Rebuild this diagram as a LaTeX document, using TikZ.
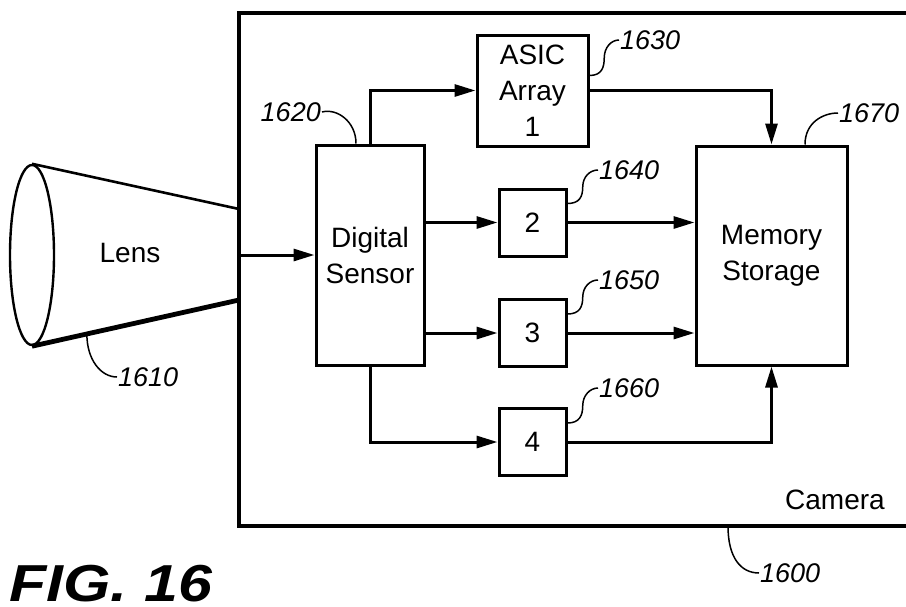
\documentclass[tikz,border=0pt]{standalone}
\usepackage{fontspec}
\setmainfont{Liberation Sans}
\usetikzlibrary{arrows.meta,shapes.geometric,calc}
\begin{document}
\begin{tikzpicture}[x=1pt,y=-1pt,
  blk/.style={draw,line width=3pt,inner sep=0pt,align=center,font=\fontsize{28}{36}\selectfont},
  arr/.style={line width=3pt,-{Triangle[length=21pt,width=12pt]}},
  lead/.style={line width=1.5pt},
  num/.style={font=\fontsize{27}{30}\selectfont\itshape,inner sep=1pt,anchor=west},
  lbl/.style={font=\fontsize{28}{30}\selectfont,inner sep=0pt}]
\useasboundingbox (0,0) rectangle (906,606);

% camera housing
\coordinate (camTR) at (906,13);
\coordinate (camTL) at (239,13);
\coordinate (camBL) at (239,526);
\coordinate (camBR) at (906,526);
\draw[line width=3.6pt] (camTR) -- (camTL) -- (camBL) -- (camBR);
\node[lbl] (camlabel) at (835,500) {Camera};

% lens
\node[draw,ellipse,line width=2.4pt,minimum width=44pt,minimum height=180pt,inner sep=0pt] (rim) at (32,255) {};
\coordinate (wallT) at (239,209);
\coordinate (wallB) at (239,300);
\coordinate (wallM) at (239,255);
\draw[line width=2.6pt] (rim.north) -- (wallT);
\draw[line width=4.8pt] (rim.south) -- (wallB);
\node[lbl] (lenslabel) at (130,253) {Lens};

% blocks
\node[blk,minimum width=108pt,minimum height=220pt] (sensor) at (370,255) {Digital\\Sensor};
\node[blk,minimum width=111pt,minimum height=111pt] (asic) at (532.5,90.5) {ASIC\\Array\\1};
\node[blk,minimum width=67pt,minimum height=67pt] (b2) at (532.5,222.5) {2};
\node[blk,minimum width=67pt,minimum height=67pt] (b3) at (532.5,333) {3};
\node[blk,minimum width=67pt,minimum height=67pt] (b4) at (532.5,442) {4};
\node[blk,minimum width=151pt,minimum height=219pt] (mem) at (771.5,255.5) {Memory\\Storage};

% connectors
\draw[arr] (wallM) -- (sensor.west);
\draw[arr] (sensor.north) |- (asic.west);
\draw[arr] (sensor.east |- b2.west) -- (b2.west);
\draw[arr] (sensor.east |- b3.west) -- (b3.west);
\draw[arr] (sensor.south) |- (b4.west);
\draw[arr] (asic.east) -| (mem.north);
\draw[arr] (b2.east) -- (b2.east -| mem.west);
\draw[arr] (b3.east) -- (b3.east -| mem.west);
\draw[arr] (b4.east) -| (mem.south);

% reference numerals
\node[num,anchor=east] (n1620) at (322,112) {1620};
\node[num] (n1630) at (619,40) {1630};
\node[num] (n1640) at (598,170) {1640};
\node[num] (n1650) at (598,280) {1650};
\node[num] (n1660) at (598,388) {1660};
\node[num] (n1670) at (838,113) {1670};
\node[num] (n1610) at (117,377) {1610};
\node[num] (n1600) at (759,573) {1600};

\coordinate (p1620) at ($(sensor.north)+(-14,0)$);
\coordinate (p1630) at ($(asic.east)+(0,-15)$);
\coordinate (p1640) at ($(b2.east)+(0,-19)$);
\coordinate (p1650) at ($(b3.east)+(0,-19)$);
\coordinate (p1660) at ($(b4.east)+(0,-19)$);
\coordinate (p1670) at ($(mem.north)+(33.5,0)$);
\coordinate (p1610) at ($(rim.south)!0.265!(wallB)$);
\coordinate (p1600) at (728,526);

\draw[lead] (n1620.east) .. controls +(15,-4) and +(0,-22) .. (p1620);
\foreach \n in {1630,1640,1650,1660}{
  \draw[lead] (p\n) .. controls +(12,0) and +(0,10) .. ($(p\n)!0.5!(n\n.west)$)
              .. controls +(0,-10) and +(-8,0) .. (n\n.west);
}
\draw[lead] (p1670) .. controls +(0,-22) and +(-15,0) .. (n1670.west);
\draw[lead] (p1610) .. controls +(0,26) and +(-16,0) .. (n1610.west);
\draw[lead] (p1600) .. controls +(0,32) and +(-18,0) .. (n1600.west);

% figure title
\node[font=\fontsize{52}{56}\selectfont\bfseries\itshape,inner sep=0pt,anchor=base west,xscale=1.17] (fig) at (9,601) {FIG. 16};
\end{tikzpicture}
\end{document}
